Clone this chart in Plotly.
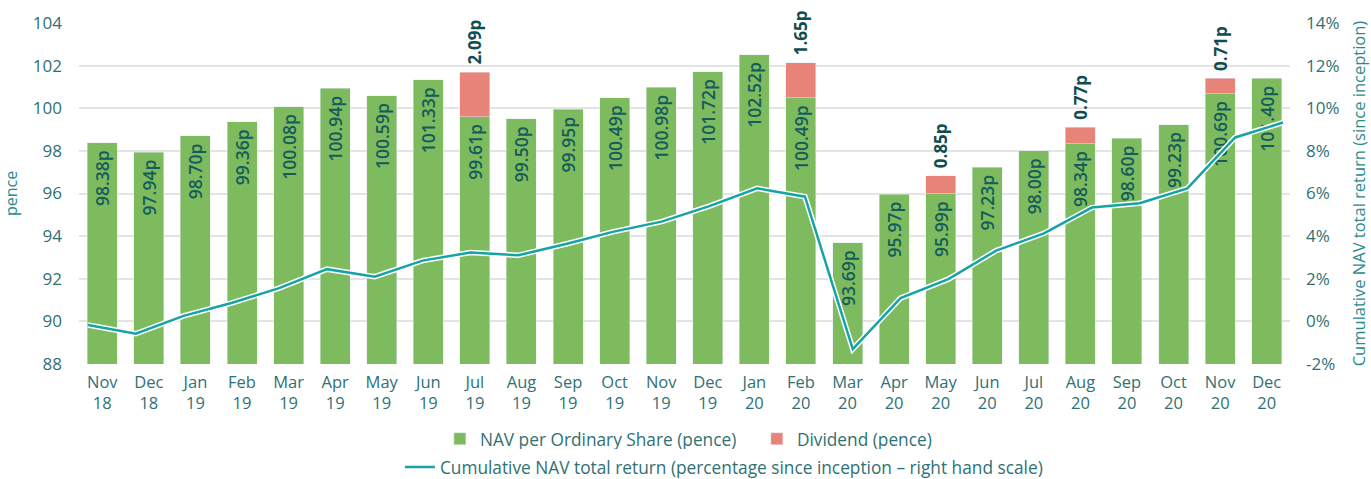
import plotly.graph_objects as go

months = ["Nov<br>18", "Dec<br>18", "Jan<br>19", "Feb<br>19", "Mar<br>19", "Apr<br>19", "May<br>19",
          "Jun<br>19", "Jul<br>19", "Aug<br>19", "Sep<br>19", "Oct<br>19", "Nov<br>19", "Dec<br>19",
          "Jan<br>20", "Feb<br>20", "Mar<br>20", "Apr<br>20", "May<br>20", "Jun<br>20", "Jul<br>20",
          "Aug<br>20", "Sep<br>20", "Oct<br>20", "Nov<br>20", "Dec<br>20"]
nav = [98.38, 97.94, 98.70, 99.36, 100.08, 100.94, 100.59, 101.33, 99.61, 99.50, 99.95, 100.49,
       100.98, 101.72, 102.52, 100.49, 93.69, 95.97, 95.99, 97.23, 98.00, 98.34, 98.60, 99.23,
       100.69, 101.40]
dividend = [None, None, None, None, None, None, None, None, 2.09, None, None, None, None, None,
            None, 1.65, None, None, 0.85, None, None, 0.77, None, None, 0.71, None]
cum_return = [-0.17, -0.58, 0.26, 0.86, 1.56, 2.45, 2.10, 2.85, 3.23, 3.10, 3.63, 4.21, 4.68,
              5.41, 6.24, 5.85, -1.30, 1.09, 1.98, 3.32, 4.13, 5.34, 5.54, 6.24, 8.63, 9.33]
pence_ticks = [88, 90, 92, 94, 96, 98, 100, 102, 104]
pct_ticks = [-2, 0, 2, 4, 6, 8, 10, 12, 14]

GREEN = "#7dbb5e"
RED = "#e8837a"
TEAL = "#16a3a6"
LABEL = "#145b5c"
AXIS = "#2f7174"
FONT = "Open Sans"

idx = list(range(len(months)))

fig = go.Figure()
fig.add_trace(go.Bar(
    x=idx, y=nav, name="NAV per Ordinary Share (pence)", marker_color=GREEN,
    text=[f"{v:.2f}p\u00a0" for v in nav], textposition="inside", insidetextanchor="end",
    textangle=-90, textfont=dict(family=FONT, size=17.5, color=LABEL, weight=600),
    constraintext="none", legend="legend",
))
fig.add_trace(go.Bar(
    x=idx, y=dividend, name="Dividend (pence)", marker_color=RED,
    text=[f"\u00a0{v:.2f}p" if v is not None else "" for v in dividend], textposition="outside",
    textangle=-90, textfont=dict(family=FONT, size=17, color="#0f4e50", weight=700),
    constraintext="none", legend="legend", cliponaxis=False,
))
fig.add_trace(go.Scatter(
    x=idx, y=cum_return, xaxis="x2", yaxis="y2", mode="lines",
    line=dict(color="white", width=5.5), showlegend=False, hoverinfo="skip",
))
fig.add_trace(go.Scatter(
    x=idx, y=cum_return, xaxis="x2", yaxis="y2", mode="lines",
    name="Cumulative NAV total return (percentage since inception \u2013 right hand scale)",
    line=dict(color=TEAL, width=2.5), legend="legend2",
))

fig.update_layout(
    width=1371, height=479,
    margin=dict(l=79, r=81, t=23, b=115, autoexpand=False),
    paper_bgcolor="white", plot_bgcolor="white",
    barmode="stack", bargap=0.356,
    font=dict(family=FONT, size=16, color=AXIS),
    xaxis=dict(
        tickmode="array", tickvals=idx, ticktext=months, range=[-0.5, len(months) - 0.5],
        showgrid=False, zeroline=False, showline=False, automargin=False,
        tickfont=dict(family=FONT, size=16.5, color=AXIS), ticks="", ticklabelstandoff=6,
    ),
    xaxis2=dict(
        overlaying="x", range=[-0.188, len(months) - 1 + 0.147], visible=False,
    ),
    yaxis=dict(
        range=[88, 104], tickmode="array", tickvals=pence_ticks,
        ticktext=[str(v) for v in pence_ticks], automargin=False,
        showgrid=True, gridcolor="#e4e4e4", gridwidth=1.5,
        zeroline=False, showline=False, ticks="",
        tickfont=dict(family=FONT, size=17, color=AXIS), ticklabelstandoff=16,
        title=dict(text="pence", font=dict(family=FONT, size=16, color="#2a8b8c"), standoff=18),
    ),
    yaxis2=dict(
        overlaying="y", side="right", range=[-2, 14], tickmode="array", tickvals=pct_ticks,
        ticktext=[f"{v}%" for v in pct_ticks], automargin=False,
        showgrid=False, zeroline=False, showline=False, ticks="",
        tickfont=dict(family=FONT, size=17, color=AXIS), ticklabelstandoff=15,
        title=dict(text="Cumulative NAV total return (since inception)",
                   font=dict(family=FONT, size=16.5, color="#2a8b8c"), standoff=14),
    ),
    legend=dict(
        orientation="h", x=0.298, xanchor="left", y=-0.22, yanchor="middle",
        font=dict(family=FONT, size=17.3, color=AXIS), traceorder="normal",
        entrywidth=272,
    ),
    legend2=dict(
        orientation="h", x=0.265, xanchor="left", y=-0.303, yanchor="middle",
        font=dict(family=FONT, size=17.3, color=AXIS),
    ),
    showlegend=True,
)

fig.write_html("out.html")
